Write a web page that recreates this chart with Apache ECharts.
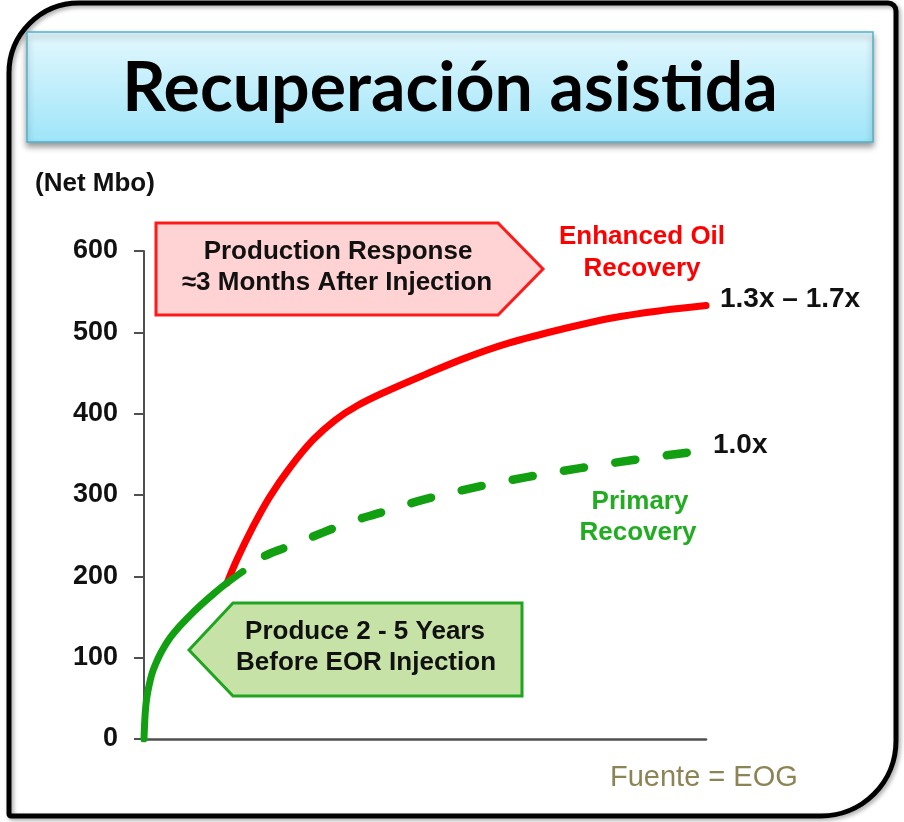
<!DOCTYPE html>
<html>
<head>
<meta charset="utf-8">
<script src="https://cdn.jsdelivr.net/npm/echarts@6/dist/echarts.min.js"></script>
<style>
  html, body { margin: 0; padding: 0; background: #ffffff; }
  #chart { width: 904px; height: 822px; }
</style>
</head>
<body>
<div id="chart"></div>
<script>
// Cumulative net production (Mbo) against time since first production (0–100 % of the period)
const yTickValues = [0, 100, 200, 300, 400, 500, 600];

// Primary production before EOR injection starts
const baseProduction = [
  [0, 0], [0.2, 30], [0.5, 51], [1.1, 72], [1.6, 84], [2.5, 99], [3.4, 111],
  [4.6, 124], [6.4, 139], [8.2, 152], [10, 164], [12.3, 178], [14.8, 192], [17.6, 206]
];

// Primary recovery forecast (no injection)
const primaryRecovery = [
  [17.6, 206], [21.2, 224], [25.4, 236], [31.9, 254], [36.7, 267], [42, 278],
  [49.6, 294], [59.3, 310], [68.1, 322], [77.6, 333], [87, 343], [96.6, 352], [98.9, 353]
];

// Enhanced oil recovery after injection
const enhancedRecovery = [
  [14.8, 192], [16.5, 220], [19.4, 261], [22.4, 298], [26, 334], [30.1, 368],
  [34, 392], [38, 410], [43, 427], [50, 448], [57, 468], [65, 487], [75, 505],
  [83.5, 518], [92.3, 527], [100, 533]
];

const RED = '#ff0000';
const GREEN = '#12a012';
const GREEN_TEXT = '#22ac22';
const FONT = '"Liberation Sans", Arial, sans-serif';
const BOLD = 'bold 26px ' + FONT;

const chart = echarts.init(document.getElementById('chart'), null, { renderer: 'canvas' });

function label(text, x, y, opts) {
  return {
    type: 'text', x: x, y: y, z: 20,
    style: Object.assign({
      text: text,
      font: BOLD,
      fill: '#111111',
      textAlign: 'center',
      textVerticalAlign: 'middle'
    }, opts || {})
  };
}

const option = {
  animation: false,
  backgroundColor: '#ffffff',
  grid: { left: 144, right: 198, top: 251, bottom: 83, containLabel: false },
  xAxis: {
    type: 'value', min: 0, max: 100,
    axisLine: { show: true, lineStyle: { color: '#505050', width: 2.5 } },
    axisTick: { show: false },
    axisLabel: { show: false },
    splitLine: { show: false }
  },
  yAxis: {
    type: 'value', min: 0, max: 600, interval: 100,
    axisLine: { show: true, lineStyle: { color: '#505050', width: 2 } },
    axisTick: { show: true, length: 10, lineStyle: { color: '#505050', width: 2 } },
    axisLabel: {
      margin: 26,
      color: '#111111',
      fontFamily: FONT,
      fontWeight: 'bold',
      fontSize: 27,
      formatter: function (v) { return yTickValues.indexOf(v) >= 0 ? String(v) : ''; }
    },
    splitLine: { show: false }
  },
  series: [
    {
      name: 'Enhanced Oil Recovery', type: 'line', data: enhancedRecovery,
      smooth: 0.35, showSymbol: false, z: 2,
      lineStyle: { color: RED, width: 7, type: 'solid', cap: 'round', join: 'round' }
    },
    {
      name: 'Base Production', type: 'line', data: baseProduction,
      smooth: 0.35, showSymbol: false, z: 4,
      lineStyle: { color: GREEN, width: 7, type: 'solid', cap: 'round', join: 'round' }
    },
    {
      name: 'Primary Recovery', type: 'line', data: primaryRecovery,
      smooth: 0.35, showSymbol: false, z: 3,
      lineStyle: { color: GREEN, width: 8.5, type: [20, 32], dashOffset: 25, cap: 'round' }
    }
  ],
  graphic: [
    // outer slide frame
    {
      type: 'rect', z: 1, silent: true,
      shape: { x: 9, y: 3, width: 887, height: 813, r: [70, 8, 75, 2] },
      style: {
        fill: 'none', stroke: '#000000', lineWidth: 5,
        shadowBlur: 4, shadowOffsetX: 2, shadowOffsetY: 2, shadowColor: 'rgba(0,0,0,0.35)'
      }
    },
    // title banner
    {
      type: 'rect', z: 5, silent: true,
      shape: { x: 27, y: 32, width: 846, height: 110 },
      style: {
        fill: {
          type: 'linear', x: 0, y: 0, x2: 0, y2: 1,
          colorStops: [{ offset: 0, color: '#e4f8fe' }, { offset: 1, color: '#9ee5f9' }]
        },
        stroke: '#4fb2cc', lineWidth: 1.5,
        shadowBlur: 6, shadowOffsetY: 4, shadowColor: 'rgba(0,0,0,0.4)'
      }
    },
    {
      type: 'text', x: 450, y: 89, z: 6,
      style: {
        text: 'Recuperación asistida',
        font: 'bold 68px Lato, "Open Sans", sans-serif',
        fill: '#000000', textAlign: 'center', textVerticalAlign: 'middle'
      }
    },
    // unit label
    {
      type: 'text', x: 35, y: 184, z: 6,
      style: { text: '(Net Mbo)', font: 'bold 26px ' + FONT, fill: '#111111', textAlign: 'left', textVerticalAlign: 'middle' }
    },
    // callout: production response
    {
      type: 'polygon', z: 10, silent: true,
      shape: { points: [[156, 223], [498, 223], [543, 269], [498, 315], [156, 315]] },
      style: { fill: '#ffd3d3', stroke: '#ff1a1a', lineWidth: 3 }
    },
    label('Production Response', 338, 252),
    label('≈3 Months After Injection', 337, 283),
    // callout: pre-injection period
    {
      type: 'polygon', z: 10, silent: true,
      shape: { points: [[189, 650], [233, 603], [522, 603], [522, 696], [233, 696]] },
      style: { fill: '#c7e2a6', stroke: '#1fa51f', lineWidth: 3 }
    },
    label('Produce 2 - 5 Years', 365, 632),
    label('Before EOR Injection', 366, 663),
    // curve labels
    label('Enhanced Oil', 642, 237, { fill: RED }),
    label('Recovery', 642, 269, { fill: RED }),
    label('1.3x – 1.7x', 720, 299, { textAlign: 'left', font: 'bold 28px ' + FONT }),
    label('1.0x', 713, 445, { textAlign: 'left', font: 'bold 28px ' + FONT }),
    label('Primary', 640, 502, { fill: GREEN_TEXT }),
    label('Recovery', 638, 533, { fill: GREEN_TEXT }),
    // source note
    {
      type: 'text', x: 610, y: 778, z: 6,
      style: { text: 'Fuente = EOG', font: '29px ' + FONT, fill: '#8c8455', textAlign: 'left', textVerticalAlign: 'middle' }
    }
  ]
};

chart.setOption(option);
</script>
</body>
</html>
